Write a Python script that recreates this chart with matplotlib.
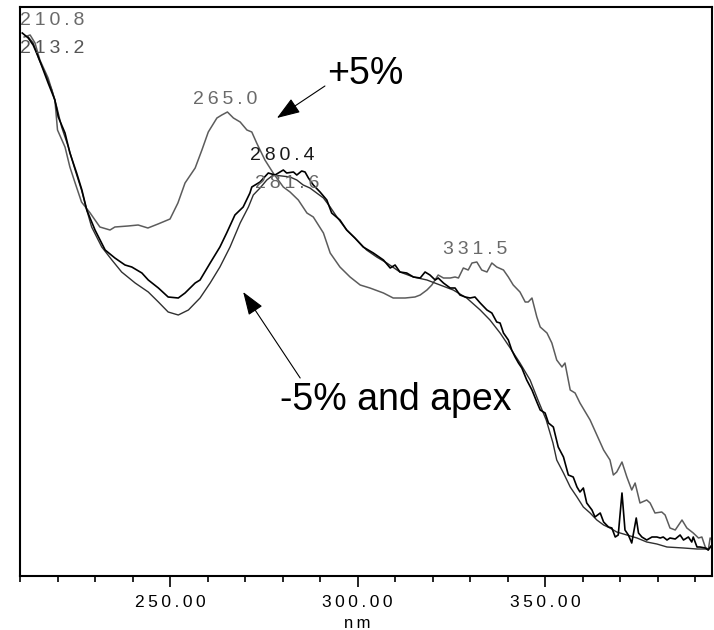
import matplotlib
matplotlib.use('Agg')
import matplotlib.pyplot as plt

# --------------------- Spectra (nm, AU) ----------------------- #

# +5% of the peak (grey trace)
PLUS5_NM = [211.1, 212.7, 214.0, 215.3, 217.5, 219.3, 220.0, 222.0, 223.3, 224.7,
            226.4, 228.7, 231.3, 234.0, 235.3, 238.8, 241.5, 244.1, 246.8, 250.0,
            252.1, 254.0, 256.7, 258.5, 260.2, 262.5, 263.8, 265.3, 266.9, 268.7,
            270.5, 271.8, 273.1, 275.3, 277.5, 280.2, 282.0, 284.2, 286.5, 288.2,
            290.9, 292.7, 295.3, 298.0, 300.7, 303.3, 306.9, 309.5, 312.7, 315.3,
            316.7, 318.5, 319.8, 321.5, 322.9, 324.7, 326.0, 326.9, 328.2, 329.5,
            330.5, 331.8, 333.1, 334.5, 335.8, 337.1, 338.9, 340.2, 341.5, 343.3,
            344.7, 345.5, 346.5, 347.8, 348.7, 350.5, 351.8, 353.1, 354.5, 355.3,
            356.7, 358.0, 359.3, 362.0, 365.6, 367.3, 368.2, 369.1, 370.5, 371.8,
            373.1, 374.0, 375.3, 377.1, 378.0, 379.3, 381.1, 382.0, 383.3, 384.7,
            386.5, 387.8, 389.5, 390.9, 391.8, 392.7, 393.5, 394.0, 394.5]
PLUS5_AU = [0.539, 0.541, 0.533, 0.516, 0.498, 0.476, 0.446, 0.429, 0.409, 0.393,
            0.374, 0.363, 0.349, 0.346, 0.349, 0.350, 0.351, 0.348, 0.352, 0.357,
            0.373, 0.393, 0.408, 0.426, 0.444, 0.458, 0.461, 0.464, 0.458, 0.454,
            0.446, 0.444, 0.433, 0.416, 0.403, 0.389, 0.384, 0.376, 0.363, 0.359,
            0.343, 0.323, 0.309, 0.299, 0.291, 0.288, 0.283, 0.278, 0.278, 0.279,
            0.281, 0.286, 0.291, 0.301, 0.298, 0.298, 0.299, 0.298, 0.308, 0.306,
            0.313, 0.314, 0.306, 0.304, 0.313, 0.309, 0.306, 0.299, 0.291, 0.284,
            0.274, 0.274, 0.278, 0.259, 0.249, 0.243, 0.233, 0.216, 0.209, 0.213,
            0.186, 0.183, 0.173, 0.156, 0.126, 0.116, 0.101, 0.104, 0.114, 0.099,
            0.086, 0.093, 0.073, 0.076, 0.073, 0.063, 0.064, 0.061, 0.048, 0.046,
            0.056, 0.048, 0.043, 0.038, 0.039, 0.029, 0.026, 0.038, 0.036]

# -5% of the peak (black, noisy)
MINUS5_NM = [210.6, 212.2, 213.5, 214.9, 216.2, 217.5, 219.3, 220.2, 222.0, 223.3,
             225.1, 226.5, 227.8, 230.0, 232.7, 235.3, 238.0, 239.8, 242.5, 244.2,
             246.9, 249.5, 252.2, 254.0, 256.7, 258.0, 260.7, 263.3, 265.1, 267.3,
             269.5, 271.3, 271.8, 274.0, 276.2, 278.0, 280.2, 281.1, 282.9, 283.8,
             285.1, 286.0, 286.9, 288.2, 290.0, 291.8, 293.1, 295.3, 297.1, 299.3,
             301.5, 304.2, 306.9, 308.7, 310.0, 311.3, 313.1, 314.9, 316.7, 318.0,
             319.3, 320.7, 321.5, 322.9, 324.7, 326.0, 327.3, 328.7, 330.0, 331.3,
             332.7, 334.5, 335.8, 337.1, 338.0, 338.9, 340.2, 341.1, 342.0, 342.9,
             343.8, 345.1, 346.5, 347.8, 348.7, 350.0, 350.9, 352.2, 353.5, 354.9,
             356.2, 357.5, 358.5, 359.3, 360.2, 361.1, 362.5, 363.3, 364.7, 365.6,
             366.9, 367.8, 368.7, 369.5, 370.5, 371.3, 372.2, 373.1, 374.3, 374.9,
             375.8, 377.1, 378.5, 379.8, 380.7, 381.5, 382.5, 383.3, 384.7, 386.0,
             386.9, 388.2, 389.1, 389.5, 390.5, 391.3, 392.7, 393.5, 394.5]
MINUS5_AU = [0.543, 0.538, 0.531, 0.519, 0.506, 0.493, 0.476, 0.459, 0.443, 0.423,
             0.403, 0.386, 0.366, 0.346, 0.326, 0.318, 0.311, 0.309, 0.303, 0.296,
             0.288, 0.279, 0.278, 0.283, 0.293, 0.296, 0.313, 0.329, 0.343, 0.361,
             0.369, 0.383, 0.389, 0.394, 0.403, 0.401, 0.406, 0.403, 0.404, 0.401,
             0.405, 0.404, 0.398, 0.391, 0.384, 0.376, 0.363, 0.356, 0.346, 0.338,
             0.329, 0.323, 0.316, 0.308, 0.311, 0.304, 0.303, 0.299, 0.298, 0.304,
             0.301, 0.296, 0.298, 0.293, 0.288, 0.288, 0.281, 0.279, 0.278, 0.279,
             0.273, 0.266, 0.263, 0.254, 0.253, 0.243, 0.236, 0.226, 0.219, 0.213,
             0.208, 0.196, 0.186, 0.174, 0.166, 0.163, 0.153, 0.149, 0.129, 0.119,
             0.101, 0.099, 0.089, 0.084, 0.088, 0.073, 0.066, 0.059, 0.063, 0.054,
             0.049, 0.048, 0.039, 0.041, 0.083, 0.046, 0.041, 0.033, 0.058, 0.043,
             0.039, 0.036, 0.039, 0.039, 0.038, 0.039, 0.036, 0.038, 0.037, 0.041,
             0.036, 0.039, 0.034, 0.039, 0.029, 0.029, 0.028, 0.026, 0.031]

# apex spectrum (dark, smoother)
APEX_NM = [212.2, 213.5, 214.9, 216.7, 218.5, 219.8, 221.1, 222.9, 224.7, 226.4,
           227.8, 229.1, 231.8, 234.5, 237.1, 240.7, 244.2, 246.9, 249.5, 252.2,
           254.9, 258.0, 260.7, 263.3, 266.0, 268.7, 270.9, 272.2, 274.0, 275.8,
           277.5, 279.8, 282.0, 283.8, 285.5, 287.3, 289.1, 290.9, 292.7, 294.5,
           297.1, 299.8, 302.4, 305.1, 307.8, 311.3, 314.9, 318.5, 322.0, 325.5,
           329.1, 332.7, 335.3, 338.0, 340.7, 343.3, 346.0, 348.1, 350.3, 352.1,
           353.1, 354.9, 356.7, 358.5, 360.2, 362.0, 363.8, 365.6, 367.3, 369.1,
           371.8, 374.5, 377.1, 379.8, 382.5, 386.9, 390.5, 393.5, 394.5]
APEX_AU = [0.539, 0.533, 0.518, 0.503, 0.486, 0.469, 0.449, 0.429, 0.406, 0.386,
           0.366, 0.349, 0.329, 0.316, 0.304, 0.293, 0.284, 0.274, 0.264, 0.261,
           0.266, 0.278, 0.293, 0.309, 0.329, 0.353, 0.369, 0.381, 0.388, 0.396,
           0.401, 0.400, 0.399, 0.396, 0.391, 0.388, 0.383, 0.378, 0.369, 0.359,
           0.346, 0.336, 0.326, 0.319, 0.313, 0.304, 0.299, 0.296, 0.291, 0.286,
           0.278, 0.266, 0.256, 0.243, 0.228, 0.213, 0.196, 0.176, 0.156, 0.133,
           0.116, 0.103, 0.089, 0.079, 0.069, 0.063, 0.056, 0.051, 0.048, 0.044,
           0.041, 0.038, 0.034, 0.032, 0.029, 0.028, 0.027, 0.027, 0.031]

# ----------------- Labels ----------------------- #

PEAK_LABELS = ["265.0", "280.4", "281.6", "331.5"]
PEAK_X = [264.8, 280.0, 281.3, 331.3]
PEAK_Y = [0.476, 0.4205, 0.3925, 0.3265]
PEAK_COLORS = ["#6a6a6a", "#1a1a1a", "#666666", "#6a6a6a"]

EDGE_LABELS = ["210.8", "213.2"]
EDGE_Y = [0.555, 0.5275]
EDGE_COLORS = ["#6a6a6a", "#555555"]

# callouts: text, text position, arrow tail, arrow head
CALLOUTS = [
    ("+5%", (302.1, 0.5025), (291.3, 0.490), (278.5, 0.458)),
    ("-5% and apex", (310.3, 0.176), (284.7, 0.198), (269.5, 0.284)),
]

TICKS = [250, 300, 350]
TICK_LABELS = ["250.00", "300.00", "350.00"]

X_MIN, X_MAX = 210.0, 394.5
Y_MIN, Y_MAX = 0.0, 0.569

THIN = "\u2009"


def spaced(s):
    # the instrument software draws text with wide letter spacing
    return THIN.join(s)


# ---------------------- Plot --------------------------- #

plt.rcParams['font.family'] = ['Liberation Sans', 'DejaVu Sans']

fig = plt.figure(figsize=(7.14, 6.30), dpi=100)
ax = fig.add_axes([20 / 714, 54 / 630, 692 / 714, 569 / 630])

ax.plot(PLUS5_NM, PLUS5_AU, color='#5c5c5c', linewidth=1.1)
ax.plot(APEX_NM, APEX_AU, color='#303030', linewidth=1.0)
ax.plot(MINUS5_NM, MINUS5_AU, color='black', linewidth=1.2)

ax.set_xlim(X_MIN, X_MAX)
ax.set_ylim(Y_MIN, Y_MAX)

for lbl, x, y, c in zip(PEAK_LABELS, PEAK_X, PEAK_Y, PEAK_COLORS):
    ax.text(x, y, spaced(lbl), color=c, fontsize=14, ha='center', va='center')
for lbl, y, c in zip(EDGE_LABELS, EDGE_Y, EDGE_COLORS):
    ax.text(X_MIN + 0.1, y, spaced(lbl), color=c, fontsize=14, ha='left', va='center')

for txt, pos, tail, head in CALLOUTS:
    ax.text(pos[0], pos[1], txt, fontsize=27, ha='center', va='center')
    ax.annotate("", xy=head, xytext=tail,
                arrowprops=dict(arrowstyle='-|>,head_length=0.9,head_width=0.32',
                                color='black', lw=0.8, mutation_scale=16,
                                shrinkA=0, shrinkB=0))

ax.set_xticks(TICKS)
ax.set_xticklabels([spaced(t) for t in TICK_LABELS], fontsize=12.5)
ax.set_xticks(range(210, 395, 10), minor=True)
ax.tick_params(axis='x', which='major', direction='out', length=8, width=1.2, pad=6)
ax.tick_params(axis='x', which='minor', direction='out', length=4.5, width=1.2)
ax.set_yticks([])
ax.set_xlabel("n" + THIN + "m", fontsize=12)
ax.xaxis.set_label_coords((357 - 20) / 692, -0.071)

for s in ax.spines.values():
    s.set_linewidth(1.5)

fig.savefig("out.png", dpi=100)
